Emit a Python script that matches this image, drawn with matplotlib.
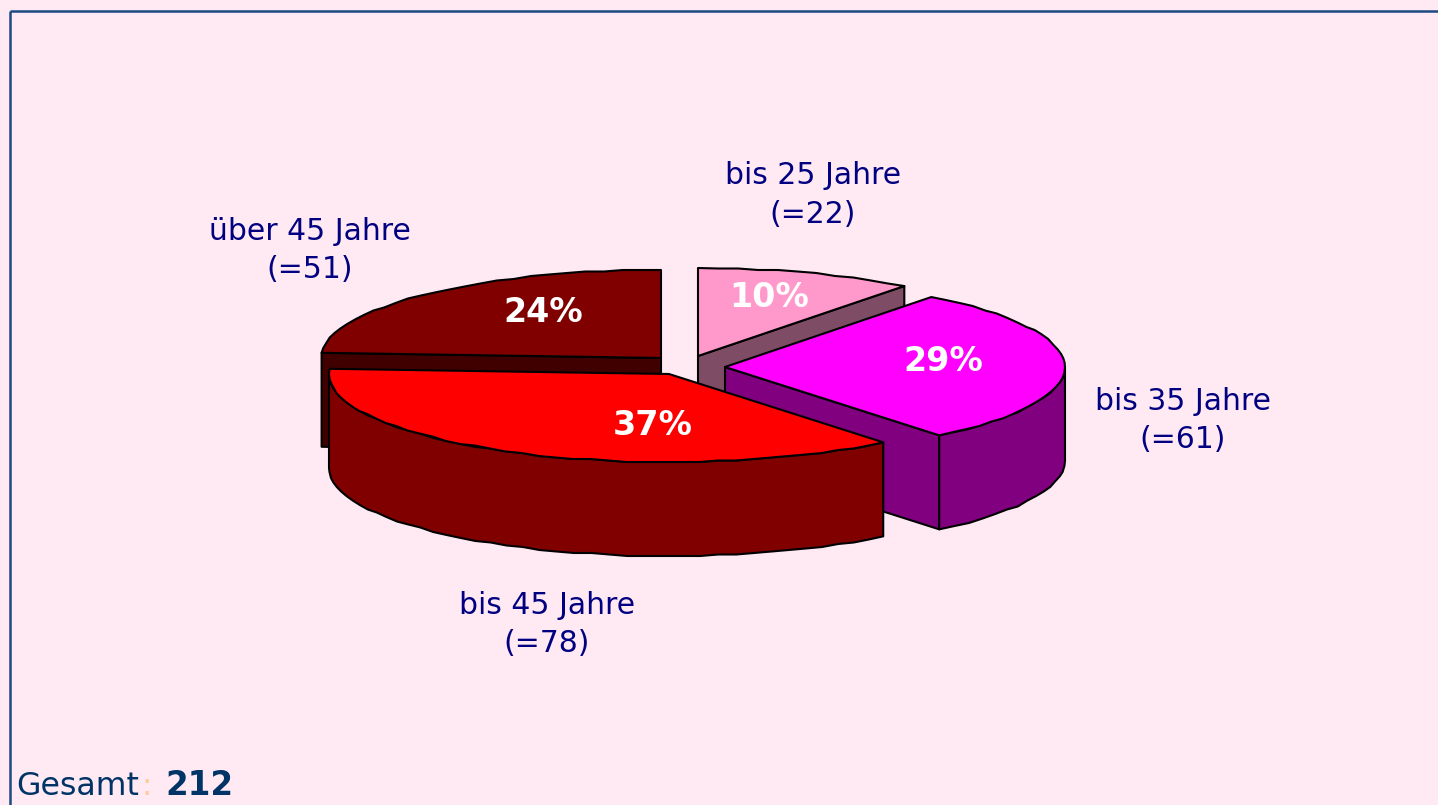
import numpy as np
import matplotlib
matplotlib.use("Agg")
import matplotlib.pyplot as plt

# slices, clockwise from 12 o'clock
labels = ["bis 25 Jahre", "bis 35 Jahre", "bis 45 Jahre", "über 45 Jahre"]
counts = [22, 61, 78, 51]
total_label = "212"

top_colors = ["#FF99CC", "#FF00FF", "#FF0000", "#800000"]
wall_colors = ["#7F4C66", "#800080", "#800000", "#400000"]

# pie apex of each slice in pixels (the explode offsets)
apex = [(698, 356), (725, 367), (669, 374), (661, 358)]
rx, ry, depth = 340, 88, 94

label_pos = [(813, 176), (1183, 401), (547, 605), (310, 231)]
pct_pos = [(769, 297), (943, 361), (653, 425), (543, 312)]

bg = "#FFEAF4"
text_blue = "#000080"
frame_blue = "#1A4A80"


def rim(a, t0, t1):
    # points on the slice rim, angles in degrees clockwise from the top
    t = np.radians(np.linspace(t0, t1, max(int(abs(t1 - t0) / 3), 2)))
    x = a[0] + rx * np.sin(t)
    y = a[1] - ry * np.cos(t)
    # the original rim is a slightly stepped curve
    y[1:-1] = np.round(y[1:-1] / 1.5) * 1.5
    return x, y


def draw_slice(a, t0, t1, top, wall):
    # radial cut faces that look towards the viewer
    for t in (t1 if t1 < 180 else None, t0 if t0 > 180 else None):
        if t is None:
            continue
        x, y = rim(a, t, t)
        x, y = x[0], y[0]
        ax.fill([a[0], x, x, a[0]], [a[1], y, y + depth, a[1] + depth],
                facecolor=wall, edgecolor="black", lw=1.5, joinstyle="round")
    # outer wall, only the front half shows
    w0, w1 = max(t0, 90), min(t1, 270)
    if w1 > w0:
        x, y = rim(a, w0, w1)
        ax.fill(np.r_[x, x[::-1]], np.r_[y, y[::-1] + depth],
                facecolor=wall, edgecolor="black", lw=1.5, joinstyle="round")
    # top
    x, y = rim(a, t0, t1)
    ax.fill(np.r_[a[0], x], np.r_[a[1], y],
            facecolor=top, edgecolor="black", lw=1.5, joinstyle="round")


fig = plt.figure(figsize=(14.38, 8.05), dpi=100, facecolor=bg)
ax = fig.add_axes([0, 0, 1, 1])
ax.set_xlim(0, 1438)
ax.set_ylim(805, 0)
ax.axis("off")

# frame, only top and left are in the crop
ax.plot([10, 10], [805, 11], color=frame_blue, lw=1.8, solid_capstyle="butt")
ax.plot([10, 1438], [11, 11], color=frame_blue, lw=1.8, solid_capstyle="butt")

edges = np.cumsum([0] + counts) / sum(counts) * 360
# back to front
for i in [3, 0, 1, 2]:
    draw_slice(apex[i], edges[i], edges[i + 1], top_colors[i], wall_colors[i])

for i in range(len(counts)):
    x, y = label_pos[i]
    ax.text(x, y, labels[i], color=text_blue, fontsize=21.5, ha="center", va="center")
    ax.text(x, y + 38, "(=%d)" % counts[i], color=text_blue, fontsize=21.5, ha="center", va="center")
    x, y = pct_pos[i]
    ax.text(x, y, "%d%%" % round(counts[i] * 100 / sum(counts)), color="white",
            fontsize=24, fontweight="bold", ha="center", va="center")

ax.text(16, 795, "Gesamt", color="#003366", fontsize=22.8, ha="left", va="baseline")
ax.text(141, 795, ":", color="#FFCC99", fontsize=22, ha="left", va="baseline")
ax.text(165, 795, total_label, color="#003366", fontsize=23.5, fontweight="bold", ha="left", va="baseline")

fig.savefig("out.png", dpi=100, facecolor=bg)
